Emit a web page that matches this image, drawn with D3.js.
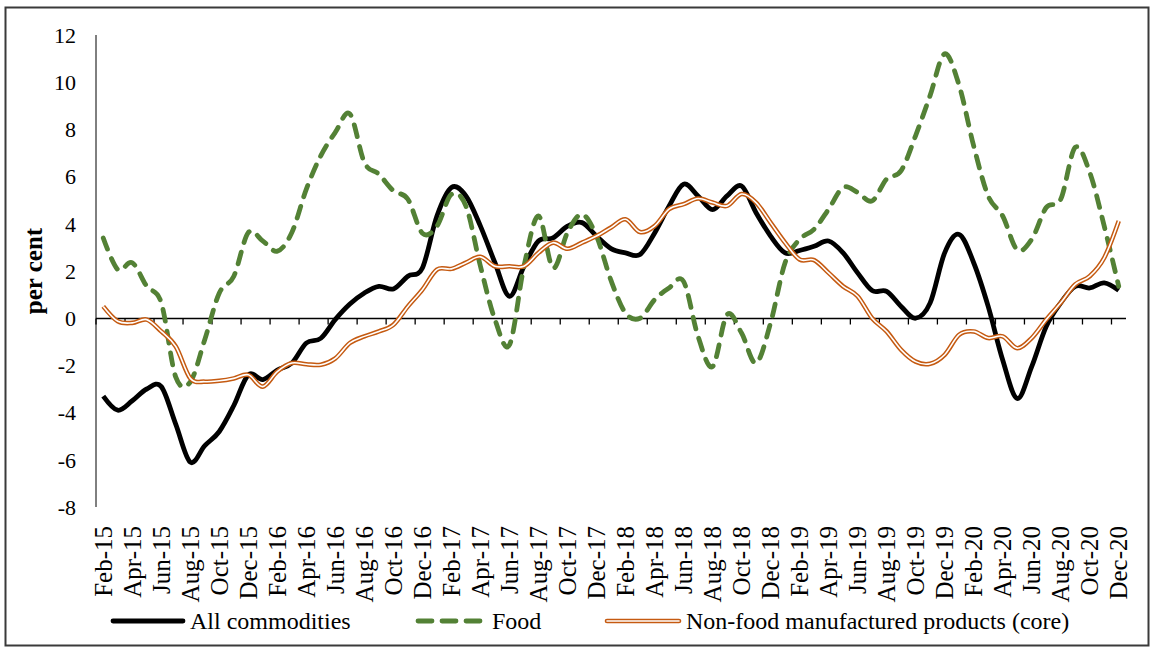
<!DOCTYPE html>
<html>
<head>
  <meta charset="utf-8">
  <title>WPI inflation: all commodities, food and core</title>
  <script src="https://d3js.org/d3.v7.min.js"></script>
</head>
<style>
  body { margin: 0; background: #fff; }
  text { font-family: "Liberation Serif", "Times New Roman", serif; fill: #000; }
</style>
<body>
</body>
<script>

  var months = ["Feb-15","Mar-15","Apr-15","May-15","Jun-15","Jul-15","Aug-15","Sep-15","Oct-15","Nov-15","Dec-15",
    "Jan-16","Feb-16","Mar-16","Apr-16","May-16","Jun-16","Jul-16","Aug-16","Sep-16","Oct-16","Nov-16","Dec-16",
    "Jan-17","Feb-17","Mar-17","Apr-17","May-17","Jun-17","Jul-17","Aug-17","Sep-17","Oct-17","Nov-17","Dec-17",
    "Jan-18","Feb-18","Mar-18","Apr-18","May-18","Jun-18","Jul-18","Aug-18","Sep-18","Oct-18","Nov-18","Dec-18",
    "Jan-19","Feb-19","Mar-19","Apr-19","May-19","Jun-19","Jul-19","Aug-19","Sep-19","Oct-19","Nov-19","Dec-19",
    "Jan-20","Feb-20","Mar-20","Apr-20","May-20","Jun-20","Jul-20","Aug-20","Sep-20","Oct-20","Nov-20","Dec-20"];

  // every second month gets a label and a tick
  var labelMonths = months.filter(function(d, i) { return i % 2 === 0; });

  var yTicks = [-8, -6, -4, -2, 0, 2, 4, 6, 8, 10, 12];

  var allCommodities = [
    -3.3, -3.9, -3.5, -3.0, -2.9, -4.5, -6.1, -5.4, -4.8, -3.7,
    -2.4, -2.6, -2.2, -1.9, -1.05, -0.85, -0.05, 0.6, 1.07, 1.35,
    1.24, 1.78, 2.13, 4.33, 5.54, 5.18, 3.9, 2.35, 0.93, 2.2,
    3.27, 3.4, 3.9, 4.05, 3.48, 2.95, 2.77, 2.7, 3.6, 4.75,
    5.68, 5.18, 4.6, 5.18, 5.6, 4.47, 3.48, 2.77, 2.87, 3.05,
    3.27, 2.77, 1.92, 1.17, 1.14, 0.5, 0.0, 0.65, 2.77, 3.55,
    2.35, 0.5, -1.77, -3.4, -2.05, -0.35, 0.65, 1.35, 1.28, 1.5,
    1.18];

  var food = [
    3.4, 2.06, 2.35, 1.35, 0.65, -2.5, -2.7, -0.9, 1.07, 1.78,
    3.63, 3.27, 2.84, 3.63, 5.47, 6.89, 7.88, 8.66, 6.6, 6.1,
    5.4, 5.04, 3.6, 3.9, 5.25, 4.75, 2.2, -0.06, -1.13, 2.2,
    4.33, 2.13, 3.63, 4.4, 3.48, 1.6, 0.22, 0.0, 0.78, 1.28,
    1.56, -0.77, -2.05, 0.15, -0.63, -1.9, -0.2, 2.35, 3.34, 3.77,
    4.62, 5.54, 5.33, 4.97, 5.9, 6.25, 7.74, 9.44, 11.2, 9.86,
    7.3, 5.18, 4.33, 2.9, 3.34, 4.69, 5.04, 7.24, 6.18, 3.9,
    1.35];

  var core = [
    0.5, -0.13, -0.2, -0.06, -0.56, -1.2, -2.55, -2.69, -2.65, -2.55,
    -2.4, -2.9, -2.26, -1.9, -1.95, -1.97, -1.7, -1.05, -0.77, -0.56,
    -0.28, 0.5, 1.21, 2.06, 2.09, 2.35, 2.6, 2.2, 2.2, 2.2,
    2.77, 3.2, 2.94, 3.2, 3.48, 3.84, 4.19, 3.65, 3.9, 4.62,
    4.83, 5.07, 4.9, 4.76, 5.26, 4.9, 4.05, 3.2, 2.49, 2.46,
    1.92, 1.35, 0.93, 0.0, -0.56, -1.34, -1.84, -1.93, -1.55, -0.7,
    -0.56, -0.84, -0.77, -1.27, -0.84, -0.06, 0.65, 1.43, 1.78, 2.56,
    4.12];

  var W = 1153, H = 650;
  var plot = {left: 96, right: 1126, top: 35, bottom: 507};

  var svg = d3.select("body").append("svg")
    .attr("width", W)
    .attr("height", H);

  svg.append("rect")
    .attr("width", W).attr("height", H)
    .attr("fill", "#fff");

  // outer frame
  svg.append("rect")
    .attr("x", 5.5).attr("y", 7.5)
    .attr("width", 1143).attr("height", 638)
    .attr("fill", "none")
    .attr("stroke", "#3a3a3a")
    .attr("stroke-width", 2);

  var x = d3.scaleBand()
    .domain(months)
    .range([plot.left, plot.right])
    .paddingInner(0).paddingOuter(0);

  var y = d3.scaleLinear()
    .domain([-8, 12])
    .range([plot.bottom, plot.top]);

  var cx = function(m) { return x(m) + x.bandwidth() / 2; };

  // y axis: plain line, labels to the left
  svg.append("line")
    .attr("x1", plot.left).attr("x2", plot.left)
    .attr("y1", y(12)).attr("y2", y(-8))
    .attr("stroke", "#000").attr("stroke-width", 1);

  svg.selectAll(".ytick")
    .data(yTicks)
    .enter().append("text")
      .attr("class", "ytick")
      .attr("x", 76)
      .attr("y", function(d) { return y(d); })
      .attr("dy", "0.35em")
      .attr("text-anchor", "end")
      .style("font-size", "22px")
      .text(function(d) { return d; });

  svg.append("text")
    .attr("transform", "translate(33," + ((y(12) + y(-8)) / 2) + ") rotate(-90)")
    .attr("dy", "0.35em")
    .attr("text-anchor", "middle")
    .style("font-size", "25px")
    .style("font-weight", "bold")
    .text("per cent");

  // x axis at zero, tick marks between categories every 2 months
  var y0 = Math.round(y(0)) + 0.5;
  svg.append("line")
    .attr("x1", plot.left).attr("x2", plot.right)
    .attr("y1", y0).attr("y2", y0)
    .attr("stroke", "#000").attr("stroke-width", 1.3);

  svg.selectAll(".xtick")
    .data(labelMonths)
    .enter().append("line")
      .attr("class", "xtick")
      .attr("x1", function(d) { return x(d); })
      .attr("x2", function(d) { return x(d); })
      .attr("y1", y0).attr("y2", y0 + 6)
      .attr("stroke", "#000").attr("stroke-width", 1.3);

  svg.selectAll(".xlabel")
    .data(labelMonths)
    .enter().append("text")
      .attr("class", "xlabel")
      .attr("transform", function(d) { return "translate(" + cx(d) + ",526) rotate(-90)"; })
      .attr("dy", "0.35em")
      .attr("text-anchor", "end")
      .style("font-size", "25px")
      .text(function(d) { return d; });

  var line = function(values) {
    return d3.line()
      .x(function(d, i) { return cx(months[i]); })
      .y(function(d) { return y(d); })
      .curve(d3.curveCardinal.tension(0))(values);
  };

  var green = "#538135", orange = "#c55a11";

  svg.append("path")
    .attr("d", line(allCommodities))
    .attr("fill", "none")
    .attr("stroke", "#000")
    .attr("stroke-width", 4.8)
    .attr("stroke-linejoin", "round");

  svg.append("path")
    .attr("d", line(food))
    .attr("fill", "none")
    .attr("stroke", green)
    .attr("stroke-width", 4.8)
    .attr("stroke-linecap", "round")
    .attr("stroke-dasharray", "12,10");

  // double line for core
  svg.append("path")
    .attr("d", line(core))
    .attr("fill", "none")
    .attr("stroke", orange)
    .attr("stroke-width", 4.6);
  svg.append("path")
    .attr("d", line(core))
    .attr("fill", "none")
    .attr("stroke", "#fff")
    .attr("stroke-width", 1.6);

  // legend
  var ly = 621;
  var legend = svg.append("g");

  legend.append("line")
    .attr("x1", 113).attr("x2", 183).attr("y1", ly).attr("y2", ly)
    .attr("stroke", "#000").attr("stroke-width", 4.8).attr("stroke-linecap", "round");
  legend.append("text")
    .attr("x", 190).attr("y", ly).attr("dy", "0.35em")
    .style("font-size", "24px")
    .text("All commodities");

  legend.append("line")
    .attr("x1", 418).attr("x2", 480).attr("y1", ly).attr("y2", ly)
    .attr("stroke", green).attr("stroke-width", 4.8).attr("stroke-linecap", "round")
    .attr("stroke-dasharray", "14,10");
  legend.append("text")
    .attr("x", 492).attr("y", ly).attr("dy", "0.35em")
    .style("font-size", "24px")
    .text("Food");

  legend.append("line")
    .attr("x1", 607).attr("x2", 679).attr("y1", ly).attr("y2", ly)
    .attr("stroke", orange).attr("stroke-width", 4.6).attr("stroke-linecap", "round");
  legend.append("line")
    .attr("x1", 607).attr("x2", 679).attr("y1", ly).attr("y2", ly)
    .attr("stroke", "#fff").attr("stroke-width", 1.6).attr("stroke-linecap", "round");
  legend.append("text")
    .attr("x", 686).attr("y", ly).attr("dy", "0.35em")
    .style("font-size", "24px")
    .text("Non-food manufactured products (core)");

</script>
</html>
